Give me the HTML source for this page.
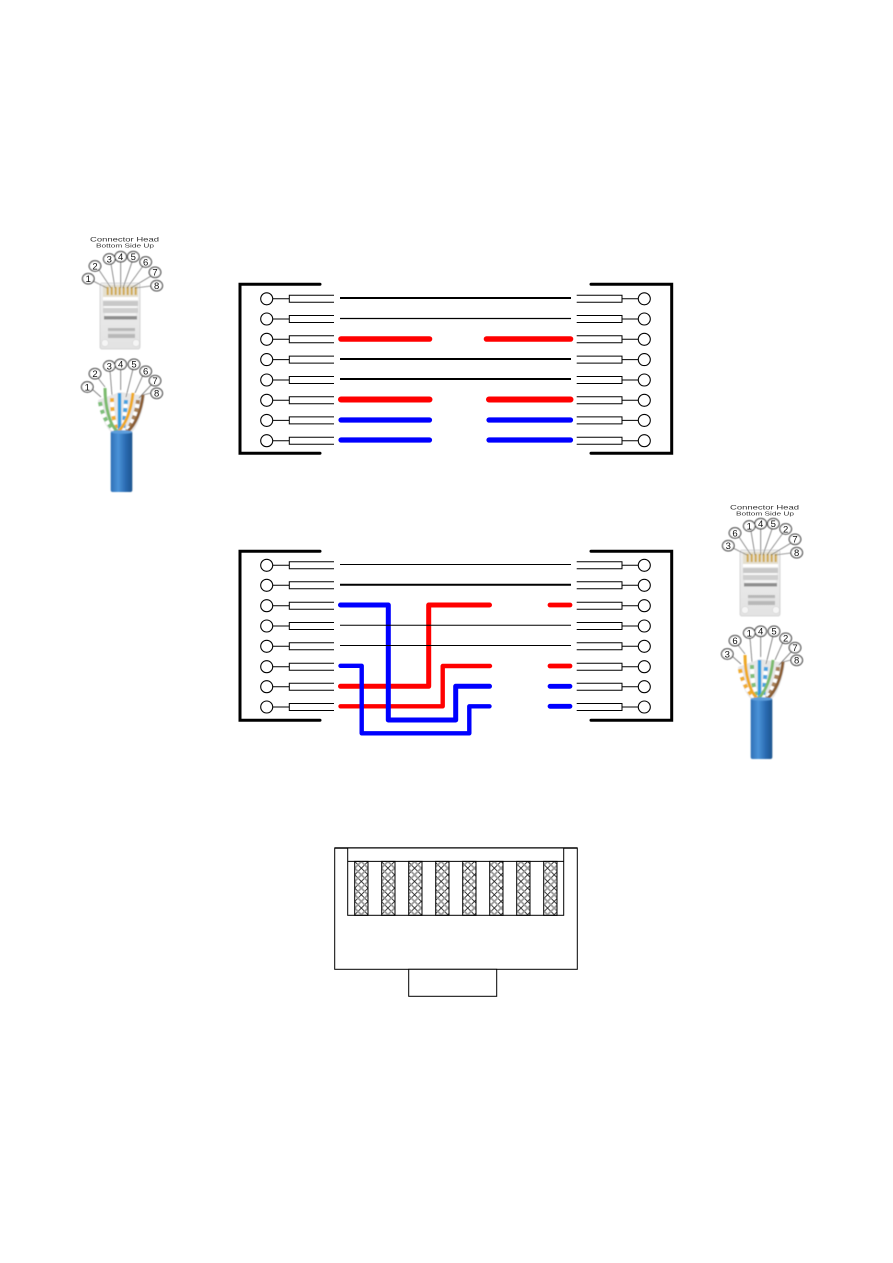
<!DOCTYPE html>
<html>
<head>
<meta charset="utf-8">
<style>
html,body{margin:0;padding:0;background:#fff;}
svg{display:block;position:absolute;left:0;top:0;}
.lbl{font-family:"Liberation Sans",sans-serif;fill:#111;text-anchor:middle;font-size:9.5px;}
.cap{font-family:"Liberation Sans",sans-serif;fill:#333;font-size:6.5px;}
</style>
</head>
<body>
<svg width="893" height="1263" viewBox="0 0 893 1263" xmlns="http://www.w3.org/2000/svg">
<defs>
  <g id="pl" fill="none" stroke="#000">
    <circle cx="266.7" cy="0" r="6" stroke-width="1.1" fill="#fff"/>
    <line x1="272.7" y1="0" x2="289.3" y2="0" stroke-width="1"/>
    <path d="M334 -3.5H289.3V3.5H334" stroke-width="1"/>
  </g>
  <g id="pr" fill="none" stroke="#000">
    <circle cx="644.3" cy="0" r="6" stroke-width="1.1" fill="#fff"/>
    <line x1="638.3" y1="0" x2="622" y2="0" stroke-width="1"/>
    <path d="M576.7 -3.5H622V3.5H576.7" stroke-width="1"/>
  </g>
  <g id="bracket" fill="none" stroke="#000" stroke-width="3" stroke-linecap="round" stroke-linejoin="miter">
    <path d="M320 0H240V169H320"/>
    <path d="M591 0H671.7V169H591"/>
  </g>
  <pattern id="hatch" width="13.3" height="13.3" patternUnits="userSpaceOnUse" x="354.7" y="861.5">
    <path d="M0 0L13.3 13.3M13.3 0L0 13.3" stroke="#222" stroke-width="0.9" fill="none"/>
    <path d="M6.65 0L0 6.65L6.65 13.3L13.3 6.65Z" stroke="#999" stroke-width="1.7" fill="none"/>
  </pattern>
  <linearGradient id="jacket" x1="0" x2="1" y1="0" y2="0">
    <stop offset="0" stop-color="#2f6fb5"/>
    <stop offset="0.35" stop-color="#4a93d8"/>
    <stop offset="0.7" stop-color="#2a6ab0"/>
    <stop offset="1" stop-color="#1d568f"/>
  </linearGradient>
  <linearGradient id="body" x1="0" x2="0" y1="0" y2="1">
    <stop offset="0" stop-color="#eeeeee"/>
    <stop offset="1" stop-color="#e2e2e2"/>
  </linearGradient>
  <filter id="soft" x="-5%" y="-5%" width="110%" height="110%"><feGaussianBlur stdDeviation="0.4"/></filter>
  <g id="head">
    <rect x="100" y="283" width="40" height="66" rx="2" fill="url(#body)" stroke="#cfcfcf" stroke-width="0.8"/>
    <rect x="103" y="285" width="35" height="13" fill="#e4dfcf"/>
    <g fill="#cfa84e">
      <rect x="106.7" y="287" width="2" height="8"/><rect x="110.7" y="287" width="2" height="8"/>
      <rect x="114.7" y="287" width="2" height="8"/><rect x="118.7" y="287" width="2" height="8"/>
      <rect x="122.7" y="287" width="2" height="8"/><rect x="126.7" y="287" width="2" height="8"/>
      <rect x="130.7" y="287" width="2" height="8"/><rect x="134.7" y="287" width="2" height="8"/>
    </g>
    <rect x="103" y="297" width="35" height="3" fill="#fff"/>
    <rect x="103" y="301" width="35" height="5" fill="#c8c8c8"/>
    <rect x="104" y="306" width="33" height="2" fill="#f7f7f7"/>
    <rect x="103" y="308" width="35" height="5" fill="#cfcfcf"/>
    <rect x="105" y="313" width="31" height="3" fill="#f2f2f2"/>
    <rect x="104" y="316" width="33" height="3.5" fill="#8f8f8f"/>
    <rect x="108" y="328" width="27" height="10" fill="#b8b8b8"/>
    <rect x="108" y="331" width="27" height="3" fill="#e0e0e0"/>
    <circle cx="105" cy="343" r="3.5" fill="#f5f5f5" stroke="#d0d0d0" stroke-width="0.5"/>
    <circle cx="136" cy="343" r="3.5" fill="#f5f5f5" stroke="#d0d0d0" stroke-width="0.5"/>
  </g>
  <g id="jack">
    <rect x="110.7" y="431" width="21.6" height="61" rx="2" fill="url(#jacket)"/>
    <ellipse cx="121.5" cy="432" rx="10.8" ry="1.8" fill="#5b9ddc"/>
  </g>
  <path id="fan" d="M98 400C100 415 106 428 112 433H131C137 428 143 412 145 396L120 392Z" fill="#e6e6e6"/>
</defs>

<!-- Diagram 1 -->
<g transform="translate(0,284.3)"><use href="#bracket"/></g>
<use href="#pl" y="298.8"/><use href="#pl" y="319"/><use href="#pl" y="339.3"/><use href="#pl" y="359.6"/>
<use href="#pl" y="380"/><use href="#pl" y="400.3"/><use href="#pl" y="420.4"/><use href="#pl" y="440.7"/>
<use href="#pr" y="298.8"/><use href="#pr" y="319"/><use href="#pr" y="339.3"/><use href="#pr" y="359.6"/>
<use href="#pr" y="380"/><use href="#pr" y="400.3"/><use href="#pr" y="420.4"/><use href="#pr" y="440.7"/>

<g fill="none" stroke="#000">
  <line x1="340" x2="571" y1="298" y2="298" stroke-width="2"/>
  <line x1="340" x2="571" y1="318.5" y2="318.5" stroke-width="1.2"/>
  <line x1="340" x2="571" y1="359" y2="359" stroke-width="2"/>
  <line x1="340" x2="571" y1="379" y2="379" stroke-width="2"/>
</g>
<g fill="none" stroke-linecap="round">
  <path d="M341 339H429.5M486.5 339H570.5" stroke="#f00" stroke-width="5.6"/>
  <path d="M341 399.5H429.5M489 399.5H570.5" stroke="#f00" stroke-width="6"/>
  <path d="M341 420H429.5M489 420H570.5" stroke="#00f" stroke-width="5.2"/>
  <path d="M341 440H429.5M489 440H570.5" stroke="#00f" stroke-width="5.2"/>
</g>

<!-- Diagram 2 -->
<g transform="translate(0,551.3)"><use href="#bracket"/></g>
<use href="#pl" y="565.3"/><use href="#pl" y="585.3"/><use href="#pl" y="605.7"/><use href="#pl" y="626"/>
<use href="#pl" y="646.3"/><use href="#pl" y="666.7"/><use href="#pl" y="686.7"/><use href="#pl" y="707"/>
<use href="#pr" y="565.3"/><use href="#pr" y="585.3"/><use href="#pr" y="605.7"/><use href="#pr" y="626"/>
<use href="#pr" y="646.3"/><use href="#pr" y="666.7"/><use href="#pr" y="686.7"/><use href="#pr" y="707"/>

<g fill="none" stroke-linecap="round" stroke-linejoin="round">
  <path d="M489.5 605H428.7V686.3H340.5" stroke="#f00" stroke-width="5"/>
  <path d="M490 666H442.7V706.3H340.5" stroke="#f00" stroke-width="4.4"/>
  <path d="M340.5 605H388.3V720H455.7V686.3H489.5" stroke="#00f" stroke-width="5"/>
  <path d="M340.5 665.8H361.7V733.3H469.3V706.3H489.5" stroke="#00f" stroke-width="4.4"/>
  <path d="M550 605H570M550 666H570" stroke="#f00" stroke-width="4.8"/>
  <path d="M550 686.3H570M550 706.3H570" stroke="#00f" stroke-width="4.8"/>
</g>
<g fill="none" stroke="#000">
  <line x1="340" x2="571" y1="564.5" y2="564.5" stroke-width="1.1"/>
  <line x1="340" x2="571" y1="584.7" y2="584.7" stroke-width="2"/>
  <line x1="340" x2="571" y1="625.3" y2="625.3" stroke-width="1"/>
  <line x1="340" x2="571" y1="645.5" y2="645.5" stroke-width="1"/>
</g>

<!-- RJ45 front view -->
<g fill="none" stroke="#000" stroke-width="1">
  <rect x="334.7" y="848" width="242.6" height="121.3" fill="#fff"/>
  <line x1="334.7" x2="577.3" y1="848" y2="848" stroke-width="1.6"/>
  <rect x="408.7" y="969.3" width="88" height="27" fill="#fff"/>
  <rect x="347.7" y="848" width="216" height="67.3" fill="#fff"/>
  <line x1="347.7" x2="563.7" y1="861.4" y2="861.4"/>
  <g fill="url(#hatch)">
    <rect x="354.7" y="861.4" width="13.3" height="53.9"/>
    <rect x="381.7" y="861.4" width="13.3" height="53.9"/>
    <rect x="408.7" y="861.4" width="13.3" height="53.9"/>
    <rect x="435.7" y="861.4" width="13.3" height="53.9"/>
    <rect x="462.7" y="861.4" width="13.3" height="53.9"/>
    <rect x="489.7" y="861.4" width="13.3" height="53.9"/>
    <rect x="516.7" y="861.4" width="13.3" height="53.9"/>
    <rect x="543.7" y="861.4" width="13.3" height="53.9"/>
  </g>
</g>

<!-- Left photo illustration -->
<g filter="url(#soft)">
  <use href="#head"/>
  <use href="#fan"/>
  <g stroke="#444" stroke-width="0.6" fill="none">
    <path d="M93 281L107 288M99 270L111 288M111 264L115 288M120.7 262V288M132 262L123 288M143 266L127 288M151 276L131 288M151 286L135 288"/>
    <path d="M92 389L101 397M98 378L105 387M110 371L112 395M120.7 369V390M133 369L126 397M143 375L135 393M152 384L139 398M151 393L143 395"/>
  </g>
  <path d="M100 402C102 415 108 425 115 431" fill="none" stroke="#fff" stroke-width="4"/>
  <path d="M100 402C102 415 108 425 115 431" fill="none" stroke="#7fbf7b" stroke-width="4" stroke-dasharray="4 4"/>
  <path d="M112 398C112 412 114 424 118 431" fill="none" stroke="#fff" stroke-width="4"/>
  <path d="M112 398C112 412 114 424 118 431" fill="none" stroke="#f0ad2e" stroke-width="4" stroke-dasharray="4 5"/>
  <path d="M126 400C125 412 124 424 123 431" fill="none" stroke="#fff" stroke-width="4"/>
  <path d="M126 400C125 412 124 424 123 431" fill="none" stroke="#4aa3e0" stroke-width="4" stroke-dasharray="4 4"/>
  <path d="M138 400C137 412 132 424 127 431" fill="none" stroke="#fff" stroke-width="4"/>
  <path d="M138 400C137 412 132 424 127 431" fill="none" stroke="#a9825a" stroke-width="4" stroke-dasharray="4 4"/>
  <path d="M105 388C105 407 110 425 117 431" fill="none" stroke="#7cbb6e" stroke-width="3"/>
  <path d="M119.5 393V431" fill="none" stroke="#2f9be0" stroke-width="3.4"/>
  <path d="M133 393C131 412 125 425 118 432" fill="none" stroke="#eea926" stroke-width="3"/>
  <path d="M143 395C141 412 135 425 128 431" fill="none" stroke="#8b5e34" stroke-width="3"/>
  <use href="#jack"/>
  <g fill="#fff" stroke="#111" stroke-width="1">
    <ellipse cx="88.3" cy="278.7" rx="5.8" ry="5.2"/><ellipse cx="95" cy="266" rx="5.8" ry="5.2"/><ellipse cx="109.3" cy="259" rx="5.8" ry="5.2"/><ellipse cx="120.7" cy="256.7" rx="5.8" ry="5.2"/>
    <ellipse cx="133.3" cy="256.7" rx="5.8" ry="5.2"/><ellipse cx="145.7" cy="262" rx="5.8" ry="5.2"/><ellipse cx="155" cy="272.3" rx="5.8" ry="5.2"/><ellipse cx="156.7" cy="285.7" rx="5.8" ry="5.2"/>
    <ellipse cx="87.3" cy="387" rx="5.8" ry="5.2"/><ellipse cx="95" cy="373.7" rx="5.8" ry="5.2"/><ellipse cx="109.3" cy="366" rx="5.8" ry="5.2"/><ellipse cx="120.7" cy="364.3" rx="5.8" ry="5.2"/>
    <ellipse cx="134" cy="364.3" rx="5.8" ry="5.2"/><ellipse cx="145.7" cy="371.3" rx="5.8" ry="5.2"/><ellipse cx="155" cy="380.7" rx="5.8" ry="5.2"/><ellipse cx="156.7" cy="393.3" rx="5.8" ry="5.2"/>
  </g>
</g>
<g class="lbl">
  <text class="lbl" x="88.3" y="282">1</text><text class="lbl" x="95" y="269.3">2</text><text class="lbl" x="109.3" y="262.3">3</text><text class="lbl" x="120.7" y="260">4</text>
  <text class="lbl" x="133.3" y="260">5</text><text class="lbl" x="145.7" y="265.3">6</text><text class="lbl" x="155" y="275.6">7</text><text class="lbl" x="156.7" y="289">8</text>
  <text class="lbl" x="87.3" y="390.3">1</text><text class="lbl" x="95" y="377">2</text><text class="lbl" x="109.3" y="369.3">3</text><text class="lbl" x="120.7" y="367.6">4</text>
  <text class="lbl" x="134" y="367.6">5</text><text class="lbl" x="145.7" y="374.6">6</text><text class="lbl" x="155" y="384">7</text><text class="lbl" x="156.7" y="396.6">8</text>
</g>
<text class="cap" x="90" y="241.6" textLength="69" lengthAdjust="spacingAndGlyphs">Connector Head</text>
<text class="cap" x="96" y="247.6" textLength="58" lengthAdjust="spacingAndGlyphs" style="font-size:5.2px">Bottom Side Up</text>

<!-- Right photo illustration -->
<g transform="translate(640,267)">
  <g filter="url(#soft)">
    <use href="#head"/>
    <use href="#fan"/>
    <g stroke="#444" stroke-width="0.6" fill="none">
      <path d="M93 281L107 288M99 270L111 288M111 264L115 288M120.7 262V288M132 262L123 288M143 266L127 288M151 276L131 288M151 286L135 288"/>
      <path d="M92 389L101 397M98 378L105 387M110 371L112 395M120.7 369V390M133 369L126 397M143 375L135 393M152 384L139 398M151 393L143 395"/>
    </g>
    <path d="M100 402C102 415 108 425 115 431" fill="none" stroke="#fff" stroke-width="4"/>
    <path d="M100 402C102 415 108 425 115 431" fill="none" stroke="#f0ad2e" stroke-width="4" stroke-dasharray="4 4"/>
    <path d="M112 398C112 412 114 424 118 431" fill="none" stroke="#fff" stroke-width="4"/>
    <path d="M112 398C112 412 114 424 118 431" fill="none" stroke="#7fbf7b" stroke-width="4" stroke-dasharray="4 5"/>
    <path d="M126 400C125 412 124 424 123 431" fill="none" stroke="#fff" stroke-width="4"/>
    <path d="M126 400C125 412 124 424 123 431" fill="none" stroke="#4aa3e0" stroke-width="4" stroke-dasharray="4 4"/>
    <path d="M138 400C137 412 132 424 127 431" fill="none" stroke="#fff" stroke-width="4"/>
    <path d="M138 400C137 412 132 424 127 431" fill="none" stroke="#a9825a" stroke-width="4" stroke-dasharray="4 4"/>
    <path d="M105 388C105 407 110 425 117 431" fill="none" stroke="#eea926" stroke-width="3"/>
    <path d="M119.5 393V431" fill="none" stroke="#2f9be0" stroke-width="3.4"/>
    <path d="M133 393C131 412 125 425 118 432" fill="none" stroke="#7cbb6e" stroke-width="3"/>
    <path d="M143 395C141 412 135 425 128 431" fill="none" stroke="#8b5e34" stroke-width="3"/>
    <use href="#jack"/>
    <g fill="#fff" stroke="#111" stroke-width="1">
      <ellipse cx="88.3" cy="278.7" rx="5.8" ry="5.2"/><ellipse cx="95" cy="266" rx="5.8" ry="5.2"/><ellipse cx="109.3" cy="259" rx="5.8" ry="5.2"/><ellipse cx="120.7" cy="256.7" rx="5.8" ry="5.2"/>
      <ellipse cx="133.3" cy="256.7" rx="5.8" ry="5.2"/><ellipse cx="145.7" cy="262" rx="5.8" ry="5.2"/><ellipse cx="155" cy="272.3" rx="5.8" ry="5.2"/><ellipse cx="156.7" cy="285.7" rx="5.8" ry="5.2"/>
      <ellipse cx="87.3" cy="387" rx="5.8" ry="5.2"/><ellipse cx="95" cy="373.7" rx="5.8" ry="5.2"/><ellipse cx="109.3" cy="366" rx="5.8" ry="5.2"/><ellipse cx="120.7" cy="364.3" rx="5.8" ry="5.2"/>
      <ellipse cx="134" cy="364.3" rx="5.8" ry="5.2"/><ellipse cx="145.7" cy="371.3" rx="5.8" ry="5.2"/><ellipse cx="155" cy="380.7" rx="5.8" ry="5.2"/><ellipse cx="156.7" cy="393.3" rx="5.8" ry="5.2"/>
    </g>
  </g>
  <g class="lbl">
    <text class="lbl" x="88.3" y="282">3</text><text class="lbl" x="95" y="269.3">6</text><text class="lbl" x="109.3" y="262.3">1</text><text class="lbl" x="120.7" y="260">4</text>
    <text class="lbl" x="133.3" y="260">5</text><text class="lbl" x="145.7" y="265.3">2</text><text class="lbl" x="155" y="275.6">7</text><text class="lbl" x="156.7" y="289">8</text>
    <text class="lbl" x="87.3" y="390.3">3</text><text class="lbl" x="95" y="377">6</text><text class="lbl" x="109.3" y="369.3">1</text><text class="lbl" x="120.7" y="367.6">4</text>
    <text class="lbl" x="134" y="367.6">5</text><text class="lbl" x="145.7" y="374.6">2</text><text class="lbl" x="155" y="384">7</text><text class="lbl" x="156.7" y="396.6">8</text>
  </g>
  <text class="cap" x="90" y="242.6" textLength="69" lengthAdjust="spacingAndGlyphs">Connector Head</text>
  <text class="cap" x="96" y="248.6" textLength="58" lengthAdjust="spacingAndGlyphs" style="font-size:5.2px">Bottom Side Up</text>
</g>
</svg>
</body>
</html>
